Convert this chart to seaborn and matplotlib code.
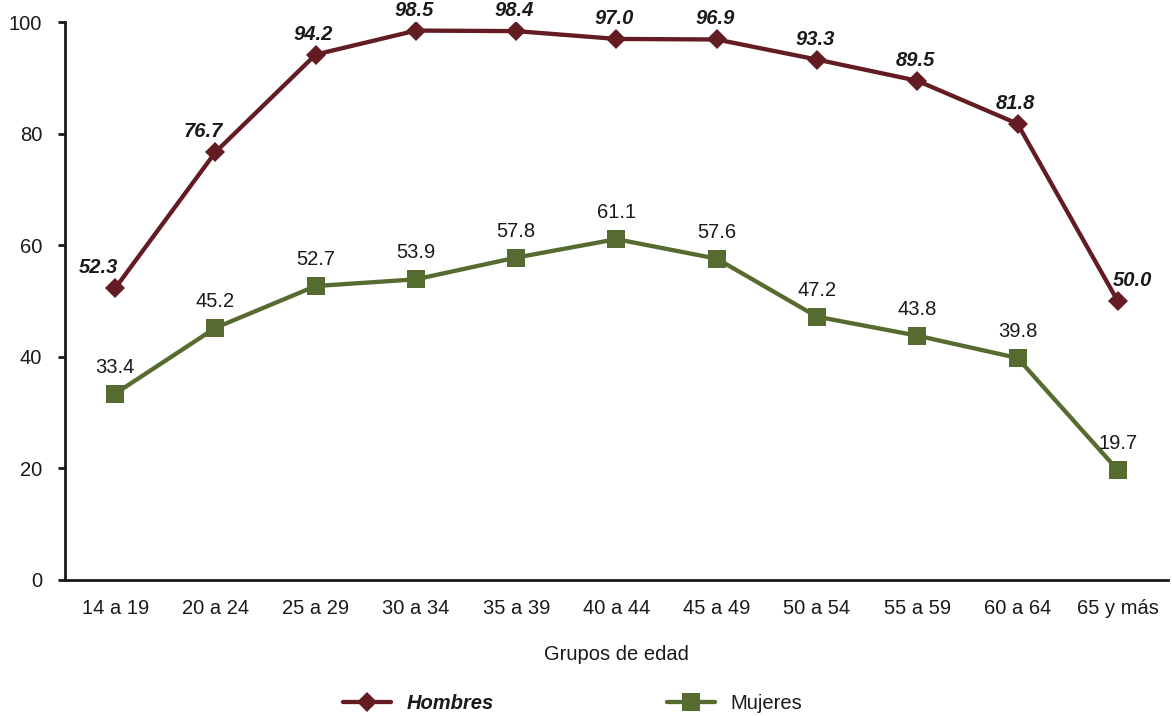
import pandas as pd
import seaborn as sns
import matplotlib.pyplot as plt

# data
grupos = ["14 a 19", "20 a 24", "25 a 29", "30 a 34", "35 a 39", "40 a 44",
          "45 a 49", "50 a 54", "55 a 59", "60 a 64", "65 y más"]
hombres = [52.3, 76.7, 94.2, 98.5, 98.4, 97.0, 96.9, 93.3, 89.5, 81.8, 50.0]
mujeres = [33.4, 45.2, 52.7, 53.9, 57.8, 61.1, 57.6, 47.2, 43.8, 39.8, 19.7]

col_h = "#631c22"
col_m = "#566b30"
txt = "#1a1a1a"
fs = 14.5

df = pd.DataFrame({
    "grupo": grupos * 2,
    "valor": hombres + mujeres,
    "sexo": ["Hombres"] * len(grupos) + ["Mujeres"] * len(grupos),
})
df["pos"] = df.groupby("sexo").cumcount()

sns.set_style("white")
plt.rcParams["font.family"] = ["Liberation Sans", "DejaVu Sans"]

fig = plt.figure(figsize=(11.72, 7.16), dpi=100)
ax = fig.add_axes([0.0555, 0.19, 0.941, 0.779])

sns.lineplot(data=df, x="pos", y="valor", hue="sexo", style="sexo",
             palette={"Hombres": col_h, "Mujeres": col_m},
             markers={"Hombres": "D", "Mujeres": "s"}, dashes=False,
             linewidth=3.1, markeredgewidth=0, ax=ax, legend=False)
for line, ms in zip(ax.lines, [10, 13]):
    line.set_markersize(ms)

# value labels (offsets in pixels)
for i, v in enumerate(hombres):
    dx = {0: -17, 1: -12, len(grupos) - 1: 15}.get(i, -2)
    ax.annotate(f"{v:.1f}", (i, v), xytext=(dx, 15), textcoords="offset pixels",
                ha="center", va="baseline", fontsize=fs, fontweight="bold",
                fontstyle="italic", color=txt)
for i, v in enumerate(mujeres):
    ax.annotate(f"{v:.1f}", (i, v), xytext=(0, 21), textcoords="offset pixels",
                ha="center", va="baseline", fontsize=fs, color=txt)

ax.set_xlim(-0.5, len(grupos) - 0.5)
ax.set_ylim(0, 100)
ax.set_yticks(range(0, 101, 20))
ax.set_xticks(range(len(grupos)))
ax.set_xticklabels(grupos)
ax.set_xticks([i + 0.5 for i in range(-1, len(grupos))], minor=True)
ax.tick_params(axis="x", which="major", length=0, pad=14, labelsize=fs, labelcolor=txt)
ax.tick_params(axis="x", which="minor", length=5, width=2, direction="out", color=txt)
ax.tick_params(axis="y", length=5, width=2, direction="out", pad=11.5, labelsize=fs,
               labelcolor=txt, color=txt, left=True)
ax.set_xlabel("Grupos de edad", fontsize=fs, labelpad=19, color=txt)
ax.set_ylabel("")
sns.despine(ax=ax)
for s in ["left", "bottom"]:
    ax.spines[s].set_linewidth(2)
    ax.spines[s].set_color(txt)

h1 = plt.Line2D([], [], color=col_h, lw=3.1, marker="D", ms=10, mew=0)
h2 = plt.Line2D([], [], color=col_m, lw=3.1, marker="s", ms=13, mew=0)
leg = fig.legend([h1, h2], ["Hombres", "Mujeres"], loc="center", bbox_to_anchor=(0.4885, 0.018),
                 ncol=2, frameon=False, fontsize=fs, handlelength=2.4, columnspacing=8.6,
                 handletextpad=0.75)
for t in leg.get_texts():
    t.set_color(txt)
leg.get_texts()[0].set_fontweight("bold")
leg.get_texts()[0].set_fontstyle("italic")

fig.savefig("out.png", dpi=100)
